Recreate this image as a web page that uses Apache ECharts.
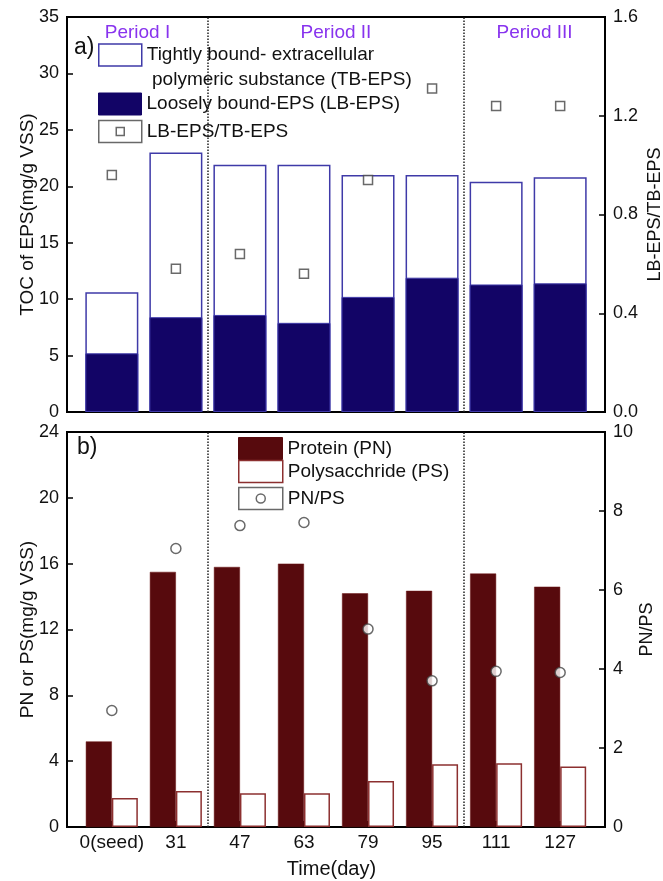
<!DOCTYPE html>
<html>
<head>
<meta charset="utf-8">
<script src="https://cdn.jsdelivr.net/npm/echarts@6/dist/echarts.min.js"></script>
<style>html,body{margin:0;padding:0;background:#fff;}#chart{width:663px;height:881px;}</style>
</head>
<body>
<div id="chart"></div>
<script>
// ---------- data ----------
const categories = ['0(seed)', '31', '47', '63', '79', '95', '111', '127'];
const lbEps = [5.2, 8.4, 8.6, 7.9, 10.2, 11.9, 11.3, 11.4];
const tbEps = [5.4, 14.6, 13.3, 14.0, 10.8, 9.1, 9.1, 9.4];
const lbTbRatio = [0.96, 0.58, 0.64, 0.56, 0.94, 1.31, 1.24, 1.24];
const protein = [5.2, 15.5, 15.8, 16.0, 14.2, 14.35, 15.4, 14.6];
const polysaccharide = [1.76, 2.18, 2.05, 2.05, 2.8, 3.82, 3.88, 3.68];
const pnPsRatio = [2.95, 7.05, 7.63, 7.71, 5.01, 3.70, 3.94, 3.91];
const periodNames = ['Period I', 'Period II', 'Period III'];
const periodBounds = [1.5, 5.5];
const xMin = -0.7, xMax = 7.7;
const topLeftAxis = { min: 0, max: 35, interval: 5 };
const topRightAxis = { min: 0, max: 1.6, interval: 0.4 };
const botLeftAxis = { min: 0, max: 24, interval: 4 };
const botRightAxis = { min: 0, max: 10, interval: 2 };

// ---------- styles ----------
const FONT = "'Liberation Sans', Arial, sans-serif";
const LB_COLOR = '#120466', TB_BORDER = '#3f3aa8';
const PN_COLOR = '#570a0d', PS_BORDER = '#8c3030';
const PERIOD_COLOR = '#8833ee';

const idx = categories.map((c, i) => i);
const pts = arr => arr.map((v, i) => [i, v]);
const pb = [xMin].concat(periodBounds, [xMax]);
// TB-EPS sits on top of LB-EPS: the outlined bar spans LB + TB
const totalEps = lbEps.map((v, i) => +(v + tbEps[i]).toFixed(2));

const grids = [
  { left: 67, right: 58, top: 17, height: 395, show: true, borderColor: '#000', borderWidth: 2, outerBoundsMode: 'none', containLabel: false },
  { left: 67, right: 58, top: 432, height: 395, show: true, borderColor: '#000', borderWidth: 2, outerBoundsMode: 'none', containLabel: false }
];

function xAxisCfg(gi, showLabels) {
  return {
    type: 'value', gridIndex: gi, min: xMin, max: xMax,
    axisLine: { show: true, onZero: false, lineStyle: { color: '#000', width: 2 } },
    axisTick: { show: true, inside: true, length: 6, customValues: idx, lineStyle: { color: '#000', width: 2 } },
    axisLabel: { show: showLabels, customValues: idx, formatter: v => categories[Math.round(v)],
      fontFamily: FONT, fontSize: 19, color: '#111', margin: 6 },
    splitLine: { show: false }
  };
}
function yAxisCfg(gi, pos, ax, name, gap, nameSize, fmt) {
  return {
    type: 'value', gridIndex: gi, position: pos, min: ax.min, max: ax.max, interval: ax.interval,
    name: name, nameLocation: 'middle', nameGap: gap, nameMoveOverlap: false,
    nameTextStyle: { fontFamily: FONT, fontSize: nameSize, color: '#111' },
    axisLine: { show: true, onZero: false, lineStyle: { color: '#000', width: 2 } },
    axisTick: { show: true, inside: true, length: 6, lineStyle: { color: '#000', width: 1.5 } },
    axisLabel: { fontFamily: FONT, fontSize: 18, color: '#111', margin: 8, formatter: fmt },
    splitLine: { show: false }
  };
}

const dotted = {
  silent: true, symbol: 'none', label: { show: false },
  lineStyle: { type: 'dotted', color: '#222', width: 1.5 },
  data: periodBounds.map(v => ({ xAxis: v }))
};

const series = [
  { name: 'TB-EPS', type: 'bar', xAxisIndex: 0, yAxisIndex: 0, barWidth: 53, barGap: '-100%', z: 2,
    data: pts(totalEps), itemStyle: { color: '#fff', borderColor: TB_BORDER, borderWidth: 1.5 },
    markArea: { silent: true, itemStyle: { color: 'rgba(0,0,0,0)' },
      label: { show: true, position: 'insideTop', distance: 6, color: PERIOD_COLOR, fontFamily: FONT, fontSize: 19 },
      data: periodNames.map((n, i) => [{ xAxis: pb[i], name: n }, { xAxis: pb[i + 1] }]) } },
  { name: 'LB-EPS', type: 'bar', xAxisIndex: 0, yAxisIndex: 0, barWidth: 53, barGap: '-100%', z: 3,
    data: pts(lbEps), itemStyle: { color: LB_COLOR, borderColor: TB_BORDER, borderWidth: 1 } },
  { name: 'LB-EPS/TB-EPS', type: 'scatter', xAxisIndex: 0, yAxisIndex: 1, symbol: 'rect', symbolSize: 9, z: 5,
    data: pts(lbTbRatio), itemStyle: { color: '#fff', borderColor: '#444', borderWidth: 1.5 },
    markLine: dotted },
  { name: 'Protein (PN)', type: 'bar', xAxisIndex: 1, yAxisIndex: 2, barWidth: 26, barGap: '0%',
    data: pts(protein), itemStyle: { color: PN_COLOR, borderColor: '#6a1515', borderWidth: 0.5 } },
  { name: 'Polysacchride (PS)', type: 'bar', xAxisIndex: 1, yAxisIndex: 2, barWidth: 26, barGap: '0%',
    data: pts(polysaccharide), itemStyle: { color: '#fff', borderColor: PS_BORDER, borderWidth: 1.5 } },
  { name: 'PN/PS', type: 'scatter', xAxisIndex: 1, yAxisIndex: 3, symbol: 'circle', symbolSize: 10, z: 5,
    data: pts(pnPsRatio), itemStyle: { color: '#fff', borderColor: '#444', borderWidth: 1.5 },
    markLine: dotted }
];

function legendItem(left, top, w, item, formatter) {
  const l = {
    orient: 'vertical', left: left, top: top, padding: 0, itemWidth: w, itemHeight: 22, itemGap: 0,
    selectedMode: false,
    textStyle: { fontFamily: FONT, fontSize: 19, color: '#111', lineHeight: 25 },
    data: [item]
  };
  if (formatter) l.formatter = formatter;
  return l;
}

const legends = [
  legendItem(98, 17.5, 43, { name: 'TB-EPS', icon: 'rect', itemStyle: { color: '#fff', borderColor: TB_BORDER, borderWidth: 1.5 } },
    () => '\nTightly bound- extracellular\n polymeric substance (TB-EPS)'),
  legendItem(98, 91.5, 43, { name: 'LB-EPS', icon: 'rect', itemStyle: { color: LB_COLOR, borderColor: LB_COLOR, borderWidth: 1 } },
    () => 'Loosely bound-EPS (LB-EPS)'),
  legendItem(98, 119, 43, { name: 'LB-EPS/TB-EPS', icon: 'path://M0,0H43V22H0Z M17.5,7H25.5V15H17.5Z',
    itemStyle: { color: '#fff', borderColor: '#444', borderWidth: 1.5 } }),
  legendItem(238, 436, 44, { name: 'Protein (PN)', icon: 'rect', itemStyle: { color: PN_COLOR, borderColor: PN_COLOR, borderWidth: 1 } }),
  legendItem(238, 459, 44, { name: 'Polysacchride (PS)', icon: 'rect', itemStyle: { color: '#fff', borderColor: PS_BORDER, borderWidth: 1.5 } }),
  legendItem(238, 486, 44, { name: 'PN/PS', icon: 'path://M0,0H44V22H0Z M26.5,11A4.5,4.5,0,1,1,17.5,11A4.5,4.5,0,1,1,26.5,11Z',
    itemStyle: { color: '#fff', borderColor: '#444', borderWidth: 1.5 } })
];

const option = {
  backgroundColor: '#fff',
  animation: false,
  grid: grids,
  xAxis: [xAxisCfg(0, false), xAxisCfg(1, true)],
  yAxis: [
    yAxisCfg(0, 'left', topLeftAxis, 'TOC of EPS(mg/g VSS)', 30, 19),
    yAxisCfg(0, 'right', topRightAxis, 'LB-EPS/TB-EPS', 41, 18, v => v.toFixed(1)),
    yAxisCfg(1, 'left', botLeftAxis, 'PN or PS(mg/g VSS)', 30, 19),
    yAxisCfg(1, 'right', botRightAxis, 'PN/PS', 33, 18)
  ],
  legend: legends,
  graphic: [
    { type: 'text', left: 74, top: 36, style: { text: 'a)', fontFamily: FONT, fontSize: 23, fill: '#111' } },
    { type: 'text', left: 77, top: 436, style: { text: 'b)', fontFamily: FONT, fontSize: 23, fill: '#111' } },
    { type: 'text', left: 'center', top: 859, style: { text: 'Time(day)', fontFamily: FONT, fontSize: 20, fill: '#111' } }
  ],
  series: series
};

const chart = echarts.init(document.getElementById('chart'), null, { renderer: 'canvas' });
chart.setOption(option);
</script>
</body>
</html>
